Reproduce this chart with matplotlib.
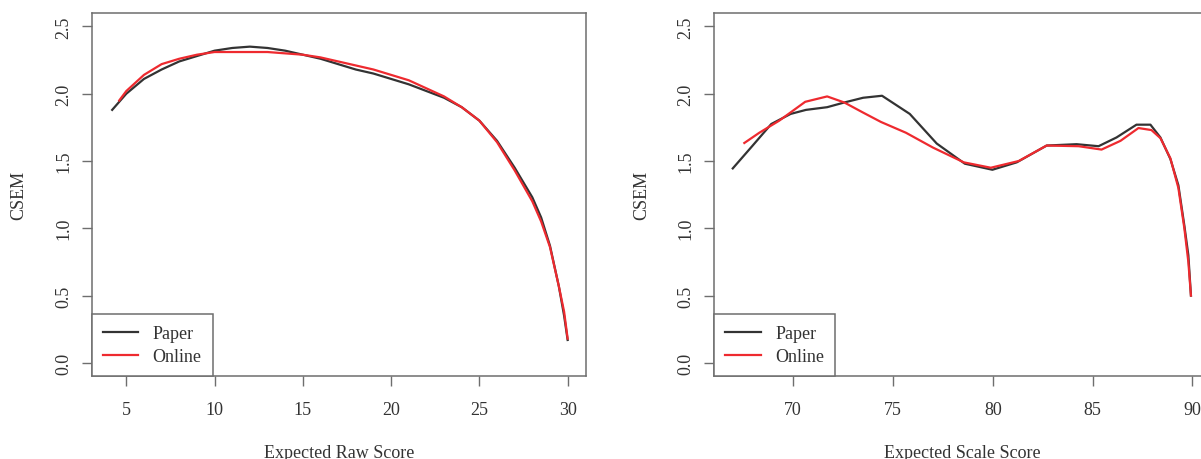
import matplotlib
matplotlib.use("Agg")
import matplotlib.pyplot as plt

# Left panel: CSEM by expected raw score
raw_paper_x = [4.2, 5, 6, 7, 8, 9, 10, 11, 12, 13, 14, 15, 16, 17, 18, 19, 20, 21, 22, 23,
               24, 25, 26, 27, 28, 28.5, 29, 29.5, 29.8, 30]
raw_paper_y = [1.88, 2.00, 2.11, 2.18, 2.24, 2.28, 2.32, 2.34, 2.35, 2.34, 2.32, 2.29, 2.26,
               2.22, 2.18, 2.15, 2.11, 2.07, 2.02, 1.97, 1.90, 1.80, 1.65, 1.45, 1.23, 1.08,
               0.87, 0.57, 0.35, 0.17]
raw_online_x = [4.6, 5, 6, 7, 8, 9, 10, 11, 12, 13, 14, 15, 16, 17, 18, 19, 20, 21, 22, 23,
                24, 25, 26, 27, 28, 28.5, 29, 29.5, 29.8, 30]
raw_online_y = [1.95, 2.02, 2.14, 2.22, 2.26, 2.29, 2.31, 2.31, 2.31, 2.31, 2.30, 2.29, 2.27,
                2.24, 2.21, 2.18, 2.14, 2.10, 2.04, 1.98, 1.90, 1.80, 1.64, 1.43, 1.20, 1.05,
                0.86, 0.57, 0.38, 0.18]

# Right panel: CSEM by expected scale score
scale_paper_x = [66.97, 67.94, 68.9, 69.87, 70.64, 71.7, 72.56, 73.5, 74.45, 75.84, 77.19,
                 78.6, 79.98, 81.2, 82.7, 84.2, 85.3, 86.2, 87.2, 87.9, 88.4, 88.9, 89.3,
                 89.6, 89.8, 89.93]
scale_paper_y = [1.445, 1.61, 1.775, 1.85, 1.88, 1.90, 1.935, 1.97, 1.985, 1.85, 1.63, 1.48,
                 1.435, 1.49, 1.615, 1.625, 1.61, 1.675, 1.77, 1.77, 1.675, 1.515, 1.32, 1.02,
                 0.80, 0.50]
scale_online_x = [67.55, 68.3, 69.3, 70.6, 71.7, 72.56, 73.5, 74.4, 75.65, 77.0, 78.55, 79.9,
                  81.3, 82.7, 84.3, 85.45, 86.4, 87.3, 87.95, 88.4, 88.9, 89.3, 89.6, 89.8,
                  89.93]
scale_online_y = [1.634, 1.71, 1.80, 1.94, 1.98, 1.935, 1.86, 1.79, 1.71, 1.60, 1.49, 1.45,
                  1.50, 1.615, 1.61, 1.585, 1.65, 1.745, 1.73, 1.67, 1.52, 1.30, 1.00, 0.75,
                  0.50]

y_ticks = [0.0, 0.5, 1.0, 1.5, 2.0, 2.5]
raw_ticks = [5, 10, 15, 20, 25, 30]
scale_ticks = [70, 75, 80, 85, 90]
series_names = ["Paper", "Online"]

plt.rcParams['font.family'] = ['Liberation Serif', 'DejaVu Serif']

W, H = 1201, 460
fig = plt.figure(figsize=(W / 100, H / 100), dpi=100)

text_col = "#333333"
box_col = "#6e6e6e"
black_col = "#333333"
red_col = "#ee2a2f"


def setup(ax, xlim, xticks, xlabel):
    ax.set_xlim(*xlim)
    ax.set_ylim(-0.1, 2.6)
    ax.set_xticks(xticks)
    ax.set_yticks(y_ticks)
    ax.set_yticklabels(["%.1f" % v for v in y_ticks], rotation=90, va="center")
    ax.tick_params(axis="both", direction="out", length=7.5, width=1, color=box_col,
                   labelsize=13, labelcolor=text_col)
    ax.tick_params(axis="x", pad=10)
    ax.tick_params(axis="y", pad=6.5)
    for s in ax.spines.values():
        s.set_color(box_col)
        s.set_linewidth(1.1)
    ax.set_xlabel(xlabel, fontsize=13, color=text_col, labelpad=19)
    ax.set_ylabel("CSEM", fontsize=13, color=text_col, labelpad=20)
    leg = ax.legend(loc="lower left", bbox_to_anchor=(0, 0), borderaxespad=0,
                    fancybox=False, framealpha=1, edgecolor=box_col, fontsize=13,
                    handlelength=1.95, handletextpad=0.8, labelspacing=0.32,
                    borderpad=0.63)
    leg.get_frame().set_linewidth(1.1)
    for t in leg.get_texts():
        t.set_color(text_col)


# axes boxes measured in pixels
ax1 = fig.add_axes([91.7 / W, (H - 377.3) / H, 494.3 / W, 363.3 / H])
ax1.plot(raw_paper_x, raw_paper_y, color=black_col, lw=1.6, label=series_names[0])
ax1.plot(raw_online_x, raw_online_y, color=red_col, lw=1.6, label=series_names[1])
setup(ax1, (3.04, 31.04), raw_ticks, "Expected Raw Score")

ax2 = fig.add_axes([714 / W, (H - 377.3) / H, 496.7 / W, 363.3 / H])
ax2.plot(scale_paper_x, scale_paper_y, color=black_col, lw=1.6, label=series_names[0])
ax2.plot(scale_online_x, scale_online_y, color=red_col, lw=1.6, label=series_names[1])
setup(ax2, (66.03, 90.92), scale_ticks, "Expected Scale Score")

fig.savefig("out.png", dpi=100)
